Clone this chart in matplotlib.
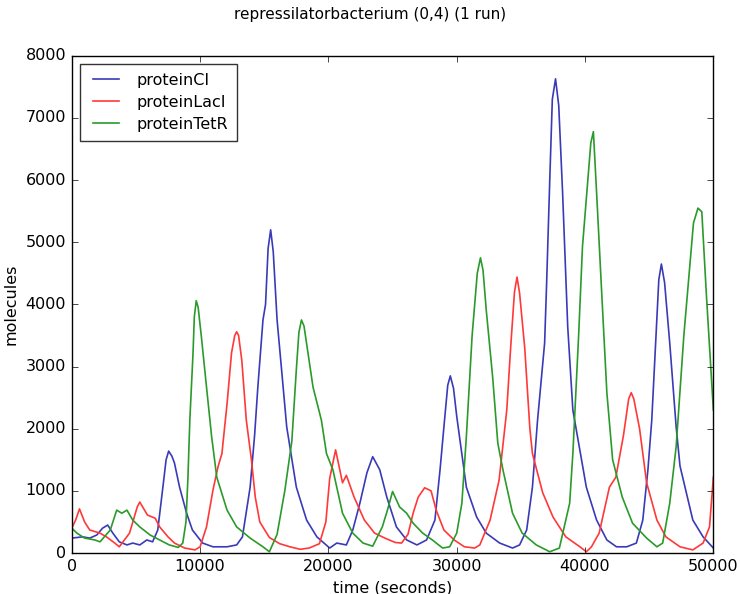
import matplotlib
matplotlib.use('Agg')
import matplotlib.pyplot as plt

# proteinCI trace (time s, molecules)
t_ci = [0, 850, 1400, 1950, 2400, 2800, 3200, 3700, 4300, 4750, 5300, 5850, 6300, 6700, 7100,
        7350, 7550, 7800, 8000, 8400, 8950, 9400, 10200, 11000, 12100, 12850, 13300, 13900,
        14250, 14500, 14900, 15100, 15300, 15500, 15700, 16000, 16350, 16750, 17500, 18300,
        19100, 20100, 20650, 21400, 21900, 22450, 23000, 23450, 24000, 24550, 25300, 26100,
        26900, 27650, 28300, 28700, 29050, 29300, 29500, 29750, 30000, 30750, 31550, 32300,
        33350, 34350, 34900, 35450, 35900, 36300, 36850, 37000, 37250, 37450, 37700, 37950,
        38250, 38650, 39050, 40100, 40900, 41700, 42450, 43250, 44000, 44500, 44900, 45200,
        45750, 45950, 46200, 46600, 47100, 47400, 48400, 49200, 50000]
ci = [240, 260, 240, 290, 400, 450, 320, 180, 130, 160, 130, 210, 180, 370, 1060,
      1500, 1640, 1560, 1450, 1060, 640, 370, 160, 100, 100, 130, 260, 1060,
      1900, 2670, 3750, 4000, 4900, 5200, 4850, 3750, 2950, 2030, 1060, 530,
      260, 80, 160, 130, 370, 800, 1290, 1550, 1340, 900, 420, 210,
      130, 210, 530, 1340, 2140, 2700, 2850, 2650, 2200, 1060, 580, 320,
      160, 80, 130, 370, 1060, 2140, 3380, 4300, 6000, 7300, 7630, 7200,
      5800, 3640, 2300, 1060, 530, 210, 100, 100, 160, 530, 1340, 2140,
      4400, 4650, 4350, 3380, 2030, 1400, 530, 260, 80]

# proteinLacI trace
t_laci = [0, 300, 600, 1000, 1400, 2200, 2700, 3350, 3700, 4500, 5100, 5300, 5900, 6500, 6850,
          7500, 8000, 8800, 9600, 10000, 10500, 11000, 11400, 11700, 12100, 12450, 12700, 12850,
          13000, 13250, 13600, 14000, 14300, 14650, 15400, 16200, 17000, 17800, 18500, 19300,
          19800, 20100, 20560, 21100, 21400, 22000, 22800, 23600, 24400, 25200, 25700, 26200,
          26600, 27000, 27500, 28000, 28400, 29000, 29800, 30600, 31400, 31800, 32600, 33300,
          33900, 34200, 34500, 34700, 34900, 35300, 35700, 35900, 36700, 37500, 38500, 39600,
          40100, 40500, 41100, 41900, 42400, 43000, 43400, 43600, 43800, 44250, 44800, 45600,
          46300, 47400, 48400, 49200, 49700, 50000]
laci = [400, 530, 710, 500, 370, 320, 260, 160, 100, 320, 740, 820, 610, 560, 420,
        260, 160, 80, 50, 100, 420, 1010, 1390, 1600, 2400, 3220, 3500, 3560,
        3500, 3100, 2140, 1500, 900, 500, 250, 150, 100, 60, 80, 150,
        500, 1200, 1660, 1130, 1250, 900, 530, 320, 240, 170, 160, 300,
        640, 900, 1050, 1000, 690, 370, 210, 100, 80, 130, 530, 1170,
        2300, 3300, 4200, 4440, 4180, 3300, 2000, 1600, 970, 580, 260, 100,
        20, 100, 320, 1060, 1220, 1900, 2480, 2580, 2480, 2000, 1130, 530,
        260, 100, 50, 160, 420, 1220]

# proteinTetR trace
t_tetr = [0, 400, 1000, 1800, 2200, 3000, 3500, 3900, 4300, 4750, 5300, 6100, 6850, 7600, 8300,
          8650, 8900, 9050, 9200, 9450, 9550, 9700, 9850, 10100, 10500, 10900, 11300, 12100,
          12850, 13900, 14900, 15400, 16000, 16600, 17150, 17500, 17700, 17900, 18100, 18800,
          19450, 19850, 20350, 21100, 21900, 22700, 23450, 24200, 24600, 25000, 25550, 26100,
          26600, 27350, 28100, 28900, 29450, 30000, 30400, 30750, 31200, 31600, 31850, 32050,
          32300, 32800, 33200, 33600, 34350, 35100, 36200, 37250, 38000, 38800, 39050, 39500,
          39800, 40450, 40650, 40900, 41300, 41700, 42150, 42900, 43700, 44800, 45600, 46050,
          46600, 47100, 47700, 48450, 48800, 49100, 49450, 50000]
tetr = [400, 320, 240, 210, 180, 370, 690, 640, 690, 530, 420, 290, 210, 130, 90,
        160, 500, 1200, 2140, 3220, 3800, 4060, 3950, 3480, 2670, 1870, 1220, 690,
        420, 240, 100, 20, 300, 1000, 1800, 2950, 3550, 3750, 3650, 2670,
        2140, 1600, 1340, 640, 320, 160, 110, 420, 690, 990, 740, 640,
        480, 320, 210, 80, 100, 320, 800, 1870, 3500, 4500, 4750, 4550,
        3910, 2830, 1770, 1340, 640, 320, 130, 20, 80, 800, 1600, 3500,
        4930, 6600, 6780, 5800, 4180, 2580, 1500, 900, 480, 240, 100, 160,
        800, 1710, 3500, 5310, 5550, 5490, 4180, 2300]

plt.style.use('classic')
plt.rcParams['font.size'] = 11.5

fig = plt.figure(figsize=(7.4, 5.94), dpi=100, facecolor='white')
ax = fig.add_axes([0.097, 0.069, 0.867, 0.837])

ax.plot(t_ci, ci, color='#3a3ab8', lw=1.2, label='proteinCI')
ax.plot(t_laci, laci, color='#ff3838', lw=1.2, label='proteinLacI')
ax.plot(t_tetr, tetr, color='#2a9a2a', lw=1.2, label='proteinTetR')

ax.set_xlim(0, 50000)
ax.set_ylim(0, 8000)
ax.set_xticks([0, 10000, 20000, 30000, 40000, 50000])
ax.set_yticks(range(0, 8001, 1000))
ax.tick_params(labelsize=11.5)
ax.set_xlabel('time (seconds)', fontsize=11.5)
ax.set_ylabel('molecules', fontsize=11.5)
fig.text(0.5, 1 - 14 / 594, 'repressilatorbacterium (0,4) (1 run)',
         ha='center', va='center', fontsize=11)

leg = ax.legend(loc='upper left', fontsize=11.5, handlelength=2.2, borderpad=0.55,
                labelspacing=0.45)
leg.get_frame().set_edgecolor('#333333')

fig.savefig('out.png', dpi=100, facecolor='white')
